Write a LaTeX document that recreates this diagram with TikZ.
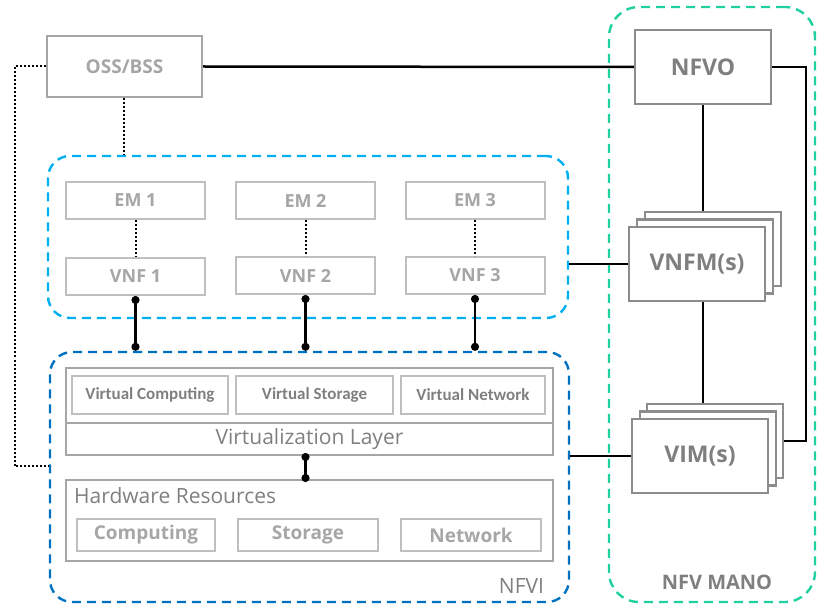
\documentclass[tikz,border=0pt]{standalone}
\usepackage{fontspec}
\setmainfont{Open Sans}
\newfontfamily\calibrifont{Carlito}
\usetikzlibrary{positioning, arrows.meta}
\definecolor{lightgrey}{HTML}{A6A6A6}
\definecolor{darkgrey}{HTML}{7F7F7F}
\definecolor{boxgrey}{HTML}{BFBFBF}
\definecolor{framegrey}{HTML}{8C8C8C}
\definecolor{vnfblue}{HTML}{00B0F0}
\definecolor{nfviblue}{HTML}{0070C0}
\definecolor{manogreen}{HTML}{20D0A0}

\begin{document}
\begin{tikzpicture}[x=1pt, y=-1pt,
	area/.style={rectangle, rounded corners=22pt, line width=2.4pt, dash pattern=on 9pt off 6pt, inner sep=0pt},
	mainbox/.style={rectangle, draw=framegrey, line width=2.2pt, fill=white, inner sep=0pt, minimum width=136pt, minimum height=74pt, text=darkgrey, font=\fontsize{23}{26}\selectfont\bfseries},
	vnfbox/.style={rectangle, draw=boxgrey, line width=2pt, fill=white, inner sep=0pt, minimum width=139pt, minimum height=37pt, text=lightgrey, font=\fontsize{18}{20}\selectfont\bfseries},
	layerbox/.style={rectangle, draw=lightgrey, line width=2pt, inner sep=0pt, minimum width=487pt, text=darkgrey, font=\fontsize{21}{24}\selectfont},
	virtbox/.style={rectangle, draw=boxgrey, line width=2pt, inner sep=0pt, minimum height=38pt, text=darkgrey, font=\calibrifont\fontsize{17}{20}\selectfont\bfseries},
	hwbox/.style={rectangle, draw=boxgrey, line width=2pt, inner sep=0pt, minimum width=139pt, minimum height=32pt, text=lightgrey, font=\fontsize{19}{22}\selectfont\bfseries},
	arealabel/.style={text=darkgrey, inner sep=0pt, font=\fontsize{21}{24}\selectfont},
	link/.style={line width=2.5pt},
	dotlink/.style={link, {Circle[length=8pt]}-{Circle[length=8pt]}},
	dotline/.style={line width=2pt, dash pattern=on 2pt off 2pt}]
		\useasboundingbox (0,0) rectangle (817,604);
		
		\node[area, draw=vnfblue, minimum width=520pt, minimum height=162pt] (vnfarea) at (308,237) {};
		\node[area, draw=nfviblue, minimum width=519pt, minimum height=250pt] (nfvi) at (309.5,477) {};
		\node[area, draw=manogreen, rounded corners=30pt, minimum width=206pt, minimum height=595pt] (mano) at (712,304.5) {};
		
		\node[arealabel, anchor=south east] at ([xshift=-26pt, yshift=10pt]nfvi.south east) {NFVI};
		\node[arealabel, font=\fontsize{20}{22}\selectfont\bfseries] at ([xshift=5pt, yshift=21pt]mano.south) {NFV MANO};
		
		\node[mainbox, draw=lightgrey, minimum width=155pt, minimum height=61pt, text=lightgrey, font=\fontsize{19}{22}\selectfont\bfseries] (oss) at (124.5,66.5) {OSS/BSS};
		\node[mainbox] (nfvo) at (703,67) {NFVO};
		
		\node[mainbox] (vnfmback) at (713,249) {};
		\node[mainbox] (vnfmmid) at (705,256.5) {};
		\node[mainbox] (vnfm) at (697,264) {VNFM(s)};
		
		\node[mainbox] (vimback) at (715,441) {};
		\node[mainbox] (vimmid) at (708,448.5) {};
		\node[mainbox] (vim) at (700,456) {VIM(s)};
		
		\node[vnfbox] (em1) at (135.5,200.5) {EM 1};
		\node[vnfbox] (em2) at (305.5,200.5) {EM 2};
		\node[vnfbox] (em3) at (475,200.5) {EM 3};
		\node[vnfbox, below=37pt of em1] (vnf1) {VNF 1};
		\node[vnfbox, below=36pt of em2] (vnf2) {VNF 2};
		\node[vnfbox, below=36pt of em3] (vnf3) {VNF 3};
		
		\node[layerbox, minimum height=55pt] (vres) at (309.5,395.5) {};
		\node[layerbox, minimum height=32pt] (vlayer) at (309.5,439) {\raisebox{-2pt}{Virtualization Layer}};
		\node[virtbox, minimum width=156pt] (vcomp) at (150,395) {\raisebox{3pt}{Virtual Computing}};
		\node[virtbox, minimum width=157pt] (vstor) at (314.5,395) {Virtual Storage};
		\node[virtbox, minimum width=144pt] (vnet) at (473,395) {Virtual Network};
		
		\node[layerbox, minimum height=81pt] (hw) at (309.5,520.5) {};
		\node[arealabel, anchor=west] at ([xshift=9pt, yshift=-17pt]hw.north west) {Hardware Resources};
		\node[hwbox, minimum width=138pt] (comp) at (146,535) {Computing};
		\node[hwbox, minimum width=140pt] (stor) at (308,535) {Storage};
		\node[hwbox, minimum width=140pt] (net) at (471,535) {Network};
		
		\draw[link] (oss.east) -- (nfvo.west);
		\draw[link] (nfvo.east) -- ++(34,0) |- (vimback.east);
		\draw[link] (nfvo.south) -- (nfvo.south |- vnfmback.north);
		\draw[link] (nfvo.south |- vnfm.south) -- (nfvo.south |- vimback.north);
		\draw[link] (vnfarea.east |- vnfm.west) -- (vnfm.west);
		\draw[link] (nfvi.east |- vim.west) -- (vim.west);
		
		\draw[dotline] (oss.west) -- ++(-31,0) |- ([yshift=11pt]nfvi.west);
		\draw[dotline] ([xshift=-1pt]oss.south) -- ([xshift=-1pt]oss.south |- vnfarea.north);
		\draw[dotline] (em1) -- (vnf1);
		\draw[dotline] (em2) -- (vnf2);
		\draw[dotline] (em3) -- (vnf3);
		
		\draw[dotlink] (vnf1.south) -- (vnf1.south |- nfvi.north);
		\draw[dotlink] (vnf2.south) -- (vnf2.south |- nfvi.north);
		\draw[dotlink] (vnf3.south) -- (vnf3.south |- nfvi.north);
		\draw[dotlink] ([yshift=3pt]vnf2.south |- vlayer.south) -- ([yshift=-3pt]vnf2.south |- hw.north);
	\end{tikzpicture}
\end{document}
